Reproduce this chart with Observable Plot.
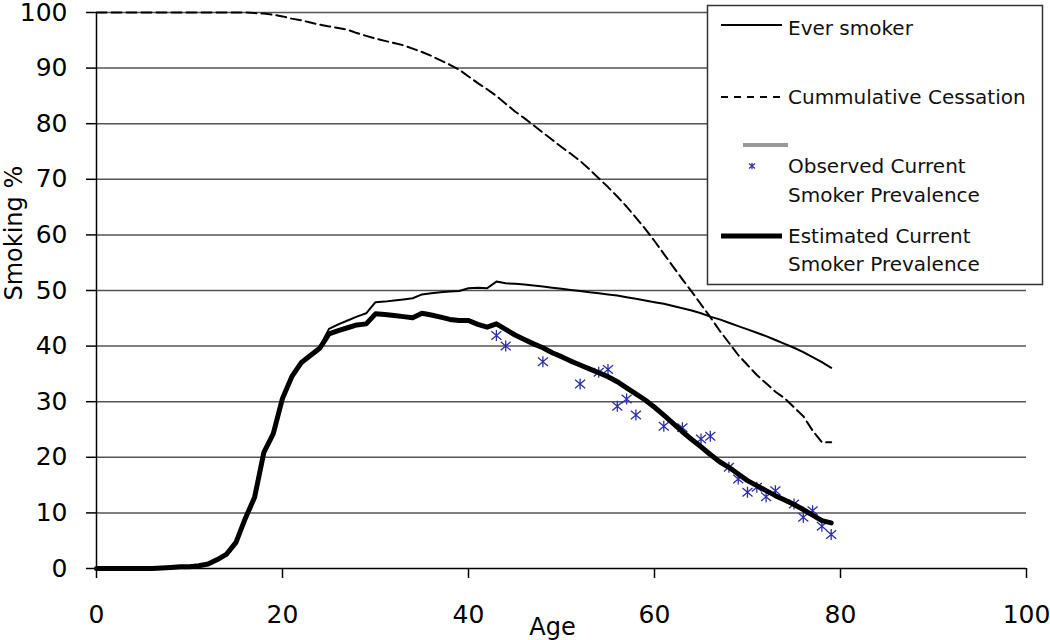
<!DOCTYPE html>
<html><head><meta charset="utf-8">
<script src="https://cdn.jsdelivr.net/npm/d3@7"></script>
<script src="https://cdn.jsdelivr.net/npm/@observablehq/plot@0.6"></script>
<style>
body{margin:0;background:#fff;font-family:"DejaVu Sans",sans-serif;}
#wrap{position:relative;width:1050px;height:640px;overflow:hidden;background:#fff;}
</style></head><body><div id="wrap"></div>
<script>
const ages = [0,1,2,3,4,5,6,7,8,9,10,11,12,13,14,15,16,17,18,19,20,21,22,23,24,25,26,27,28,29,30,31,32,33,34,35,36,37,38,39,40,41,42,43,44,45,46,47,48,49,50,51,52,53,54,55,56,57,58,59,60,61,62,63,64,65,66,67,68,69,70,71,72,73,74,75,76,77,78,79];
const estimated = [0,0,0,0,0,0,0,0.1,0.2,0.3,0.3,0.5,0.8,1.6,2.6,4.7,9.0,12.8,20.9,24.2,30.6,34.5,37.0,38.3,39.6,42.2,42.8,43.3,43.8,44.0,45.8,45.7,45.5,45.3,45.1,45.9,45.6,45.2,44.8,44.6,44.6,43.9,43.4,44.0,43.0,42.0,41.2,40.4,39.7,38.8,38.1,37.3,36.6,35.9,35.2,34.5,33.6,32.5,31.4,30.3,29.0,27.6,26.1,24.6,23.2,21.9,20.5,19.2,18.2,17.0,15.8,14.9,14.0,13.1,12.3,11.5,10.6,9.6,8.6,8.2];
const everSmoker = [0,0,0,0,0,0,0,0.1,0.2,0.3,0.3,0.5,0.8,1.6,2.6,4.7,9.0,12.8,20.9,24.2,30.6,34.5,37.1,38.5,39.9,43.1,43.9,44.6,45.3,45.9,47.9,48.0,48.2,48.4,48.6,49.3,49.5,49.7,49.8,49.9,50.4,50.5,50.4,51.6,51.3,51.2,51.1,50.9,50.7,50.5,50.3,50.1,49.9,49.7,49.5,49.3,49.1,48.8,48.5,48.2,47.9,47.6,47.2,46.8,46.4,45.9,45.3,44.8,44.2,43.6,43.0,42.4,41.8,41.1,40.4,39.7,38.9,38.0,37.1,36.1];
const cessation = [100,100,100,100,100,100,100,100,100,100,100,100,100,100,100,100,100,99.9,99.8,99.6,99.3,98.9,98.6,98.2,97.8,97.5,97.2,96.9,96.3,95.8,95.3,94.9,94.5,94.1,93.5,92.9,92.2,91.4,90.6,89.7,88.5,87.3,86.2,85.0,83.6,82.2,81.0,79.7,78.4,77.1,75.8,74.6,73.3,71.8,70.2,68.6,66.9,65.1,63.1,61.1,58.9,56.6,54.3,52.0,49.8,47.5,45.2,42.8,40.6,38.4,36.6,34.8,33.3,31.8,30.6,29.0,27.4,24.8,22.7,22.7];
const obsAges = [43,44,48,52,54,55,56,57,58,61,63,65,66,68,69,70,71,72,73,75,76,77,78,79];
const obsValues = [41.9,40.0,37.2,33.2,35.3,35.8,29.2,30.5,27.6,25.6,25.3,23.3,23.8,18.2,16.1,13.7,14.6,12.9,14.0,11.6,9.2,10.4,7.6,6.1];
const xTicks = [0,20,40,60,80,100];
const yTicks = [0,10,20,30,40,50,60,70,80,90,100];
const xLabel = "Age";
const yLabel = "Smoking %";
const legendLines = [["Ever smoker"],["Cummulative Cessation"],["Observed Current","Smoker Prevalence"],["Estimated Current","Smoker Prevalence"]];

const lineData = (vals) => ages.map((a, i) => ({age: a, v: vals[i]}));
const obs = obsAges.map((a, i) => ({age: a, v: obsValues[i]}));

const star = {
  draw(ctx, size) {
    const r = Math.sqrt(size / Math.PI);
    ctx.moveTo(0, -r * 1.1); ctx.lineTo(0, r * 1.1);
    ctx.moveTo(-r, -r * 0.85); ctx.lineTo(r, r * 0.85);
    ctx.moveTo(-r, r * 0.85); ctx.lineTo(r, -r * 0.85);
  }
};

const chart = Plot.plot({
  width: 1050, height: 640,
  marginLeft: 96, marginRight: 24, marginTop: 12, marginBottom: 72,
  x: {domain: [0, 100]},
  y: {domain: [0, 100]},
  style: {fontFamily: "DejaVu Sans, sans-serif", fontSize: "25px", color: "#000", background: "white"},
  marks: [
    Plot.ruleY(yTicks.filter(d => d > 0), {stroke: "#555", strokeWidth: 1.5}),
    Plot.axisX({ticks: xTicks, tickSize: 10, tickPadding: 27, label: null, fontSize: 25, strokeWidth: 1.5}),
    Plot.axisY({ticks: yTicks, tickSize: 10, tickPadding: 19, label: null, fontSize: 25, strokeWidth: 1.5}),
    Plot.ruleY([0], {stroke: "#000", strokeWidth: 1.5}),
    Plot.ruleX([0], {stroke: "#000", strokeWidth: 1.5}),
    Plot.line(lineData(cessation), {x: "age", y: "v", stroke: "#000", strokeWidth: 2, strokeDasharray: "10,5"}),
    Plot.line(lineData(everSmoker), {x: "age", y: "v", stroke: "#000", strokeWidth: 2}),
    Plot.dot(obs, {x: "age", y: "v", symbol: star, r: 5, stroke: "#2e2ea8", strokeWidth: 1.3, fill: "none"}),
    Plot.line(lineData(estimated), {x: "age", y: "v", stroke: "#000", strokeWidth: 5, strokeLinejoin: "round", strokeLinecap: "round"}),
    Plot.text([xLabel], {text: d => d, frameAnchor: "bottom", dx: -9, dy: 66, fontSize: 24, fill: "#000"}),
    Plot.text([yLabel], {text: d => d, frameAnchor: "left", rotate: -90, dx: -82, dy: 10, fontSize: 24, fill: "#000"})
  ]
});
document.getElementById("wrap").appendChild(chart);

// legend overlay
const lg = d3.select("#wrap").append("svg")
  .attr("width", 1050).attr("height", 640)
  .style("position", "absolute").style("left", "0px").style("top", "0px")
  .style("font-family", "DejaVu Sans, sans-serif").style("font-size", "20px");
lg.append("rect").attr("x", 707.5).attr("y", 5.5).attr("width", 335).attr("height", 279)
  .attr("fill", "#fff").attr("stroke", "#333").attr("stroke-width", 1.5);
lg.append("line").attr("x1", 721).attr("x2", 782).attr("y1", 25).attr("y2", 25).attr("stroke", "#000").attr("stroke-width", 2);
lg.append("line").attr("x1", 721).attr("x2", 782).attr("y1", 97).attr("y2", 97).attr("stroke", "#000").attr("stroke-width", 2).attr("stroke-dasharray", "7,6");
lg.append("line").attr("x1", 743).attr("x2", 788).attr("y1", 145).attr("y2", 145).attr("stroke", "#999").attr("stroke-width", 4);
lg.append("path").attr("transform", "translate(752,166)")
  .attr("d", d3.symbol(star, Math.PI * 9)())
  .attr("stroke", "#2e2ea8").attr("stroke-width", 1.2).attr("fill", "none");
lg.append("line").attr("x1", 721).attr("x2", 782).attr("y1", 236).attr("y2", 236).attr("stroke", "#000").attr("stroke-width", 5);
const baselines = [[35], [104], [173, 202], [243, 271]];
legendLines.forEach((lines, i) => {
  lines.forEach((t, j) => {
    lg.append("text").attr("x", 788).attr("y", baselines[i][j]).attr("fill", "#111").text(t);
  });
});
</script>
</body></html>
